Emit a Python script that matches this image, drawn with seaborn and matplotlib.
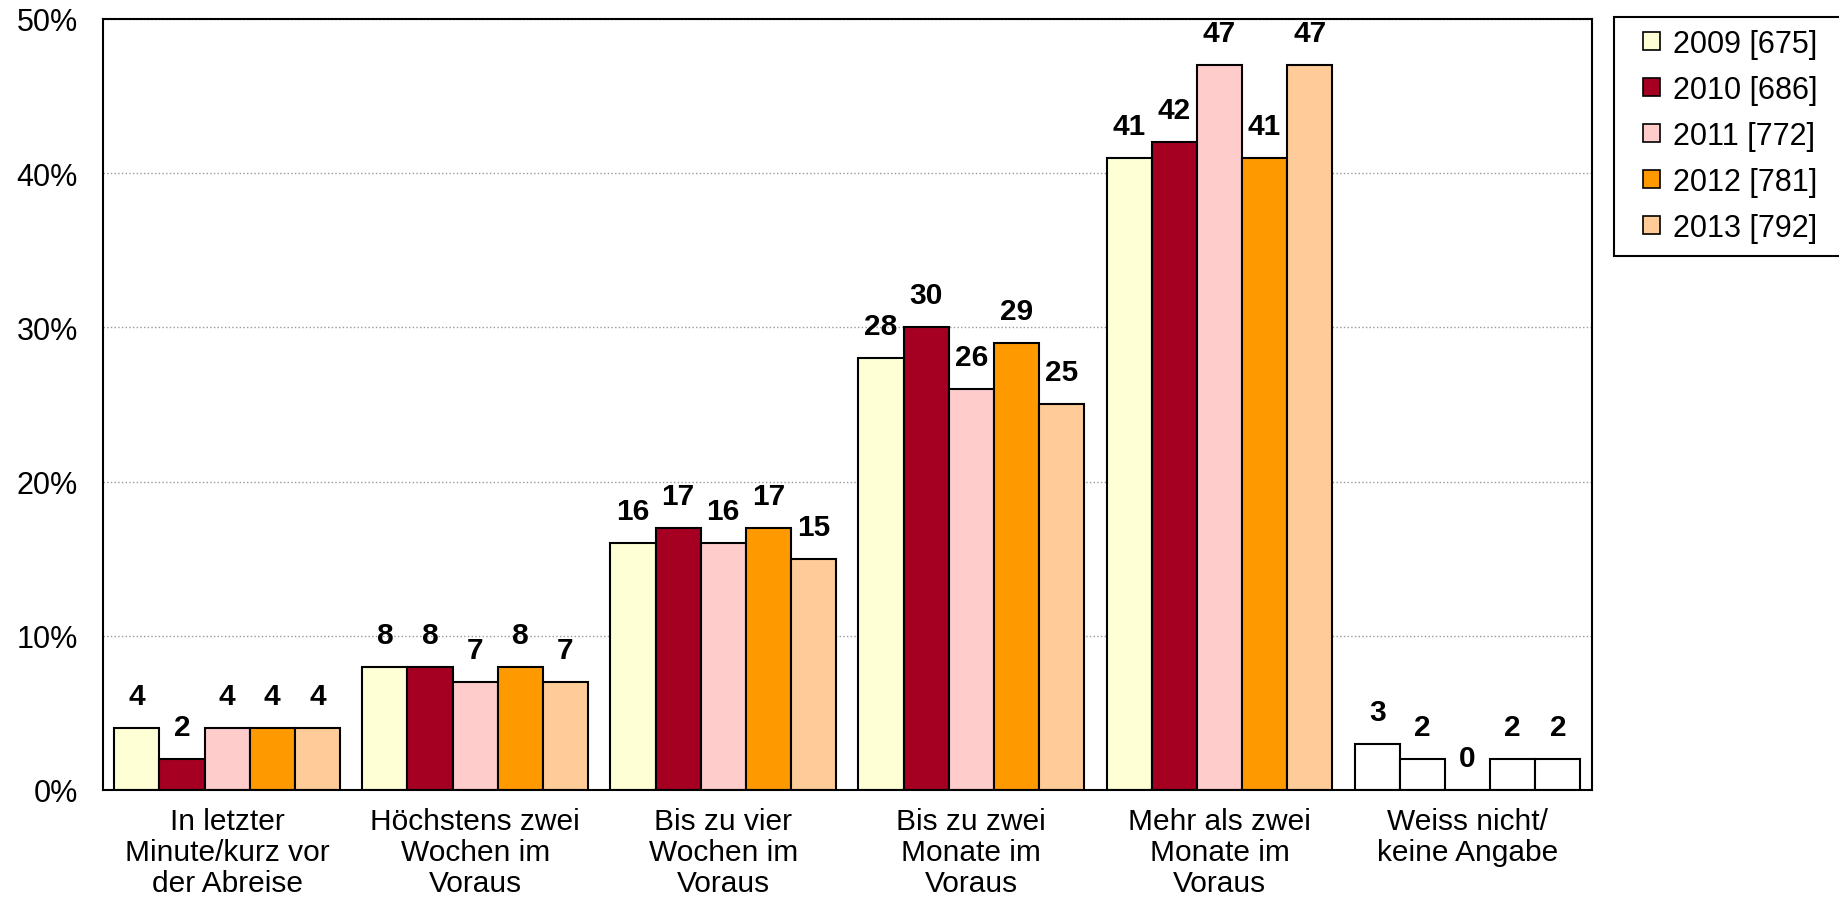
import seaborn as sns
import pandas as pd
import matplotlib.pyplot as plt
from matplotlib.patches import Patch, Rectangle

categories = ['In letzter\nMinute/kurz vor\nder Abreise', 'Höchstens zwei\nWochen im\nVoraus',
              'Bis zu vier\nWochen im\nVoraus', 'Bis zu zwei\nMonate im\nVoraus',
              'Mehr als zwei\nMonate im\nVoraus', 'Weiss nicht/\nkeine Angabe']
years = ['2009 [675]', '2010 [686]', '2011 [772]', '2012 [781]', '2013 [792]']
v2009 = [4, 8, 16, 28, 41, 3]
v2010 = [2, 8, 17, 30, 42, 2]
v2011 = [4, 7, 16, 26, 47, 0]
v2012 = [4, 8, 17, 29, 41, 2]
v2013 = [4, 7, 15, 25, 47, 2]
colors = ['#FFFFD5', '#A50021', '#FFCCCC', '#FF9900', '#FFCC99']

rows = []
for y, vals in zip(years, [v2009, v2010, v2011, v2012, v2013]):
    for c, v in zip(categories, vals):
        rows.append({'cat': c, 'year': y, 'val': v})
df = pd.DataFrame(rows)

plt.rcParams['font.family'] = ['Liberation Sans', 'DejaVu Sans']
fig, ax = plt.subplots(figsize=(18.4, 9.04), dpi=100)
fig.subplots_adjust(left=0.056, right=0.865, top=0.978, bottom=0.125)

sns.barplot(data=df, x='cat', y='val', hue='year', palette=colors, width=0.91, gap=0,
            edgecolor='black', linewidth=1.5, saturation=1, ax=ax, legend=False)

# letzte Kategorie weiss
n = len(categories)
for i, p in enumerate(ax.patches):
    if i % n == n - 1:
        p.set_facecolor('white')

for cont in ax.containers:
    ax.bar_label(cont, fmt='%d', padding=13, fontsize=21.5, fontweight='bold')

ax.set_ylim(0, 50)
ax.set_xlim(-0.5, n - 0.5)
ax.set_yticks([0, 10, 20, 30, 40, 50])
ax.set_yticklabels(['0%', '10%', '20%', '30%', '40%', '50%'], fontsize=22)
ax.tick_params(axis='x', labelsize=21.5, length=0, pad=12)
ax.tick_params(axis='y', length=0, pad=18)
ax.set_xlabel('')
ax.set_ylabel('')
ax.yaxis.grid(True, color='#999999', linestyle=':', linewidth=1)
ax.set_axisbelow(True)
for s in ax.spines.values():
    s.set_color('black')
    s.set_linewidth(1.5)
for lab in ax.get_xticklabels():
    lab.set_linespacing(1.15)

# Legende mit eigenem Rahmen
W, H = 1840, 904
fig.patches.append(Rectangle((1614 / W, 1 - 257 / H), (1845 - 1614) / W, (257 - 18) / H,
                             transform=fig.transFigure, facecolor='white', edgecolor='black',
                             linewidth=1.5, zorder=0))
handles = [Patch(facecolor=c, edgecolor='black', linewidth=1.2) for c in colors]
leg = fig.legend(handles, years, loc='upper left', bbox_to_anchor=(1643 / W, 1 - 30 / H),
                 fontsize=22, frameon=False, handlelength=0.55, handleheight=0.55,
                 handletextpad=0.42, labelspacing=0.52, borderpad=0, borderaxespad=0)

fig.savefig('out.png', dpi=100)
